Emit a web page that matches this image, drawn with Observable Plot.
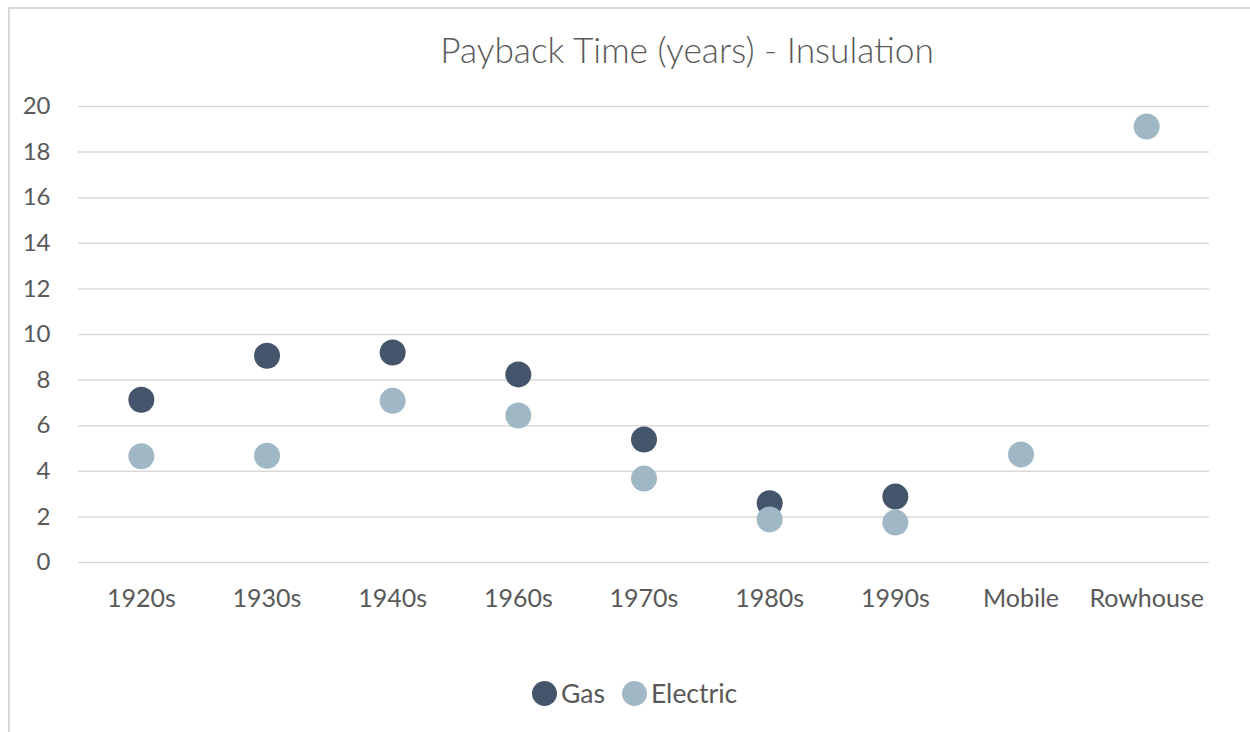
<!DOCTYPE html>
<html>
<head>
<meta charset="utf-8">
<script src="https://cdn.jsdelivr.net/npm/d3@7"></script>
<script src="https://cdn.jsdelivr.net/npm/@observablehq/plot@0.6"></script>
<style>
  html, body { margin: 0; padding: 0; background: #fff; }
  body { width: 1250px; height: 732px; overflow: hidden; position: relative; font-family: Lato, "Open Sans", sans-serif; color: #595959; }
  #frame { position: absolute; left: 8px; top: 7px; width: 1400px; height: 900px; border-left: 2px solid #d9d9d9; border-top: 2px solid #d9d9d9; }
  #title { position: absolute; left: 0; width: 1374px; top: 28px; text-align: center; font-size: 35.3px; font-weight: 300; line-height: 44px; }
  #chart { position: absolute; left: 0; top: 0; }
  #legend { position: absolute; top: 674px; left: 532px; display: flex; align-items: center; font-size: 26.5px; line-height: 38px; }
  .sw { display: inline-block; width: 25px; height: 25px; border-radius: 50%; margin-right: 4px; }
  .item { display: flex; align-items: center; margin-right: 17px; }
</style>
</head>
<body>
<div id="frame"></div>
<div id="title">Payback Time (years) - Insulation</div>
<div id="chart"></div>
<div id="legend"></div>
<script>
const categories = ["1920s", "1930s", "1940s", "1960s", "1970s", "1980s", "1990s", "Mobile", "Rowhouse"];
const gas = [7.14, 9.07, 9.21, 8.25, 5.39, 2.60, 2.89, null, null];
const electric = [4.66, 4.68, 7.09, 6.45, 3.68, 1.89, 1.75, 4.74, 19.12];
const yTicks = [0, 2, 4, 6, 8, 10, 12, 14, 16, 18, 20];
const seriesNames = ["Gas", "Electric"];
const seriesColors = ["#44546A", "#A0B7C6"];

const rows = [];
categories.forEach((c, i) => {
  if (gas[i] != null) rows.push({cat: c, series: "Gas", value: gas[i]});
});
categories.forEach((c, i) => {
  if (electric[i] != null) rows.push({cat: c, series: "Electric", value: electric[i]});
});

const chart = Plot.plot({
  width: 1250,
  height: 640,
  marginLeft: 78,
  marginRight: 41,
  marginTop: 106,
  marginBottom: 78,
  style: { fontFamily: "Lato, 'Open Sans', sans-serif", fontSize: "24px", color: "#595959", background: "transparent" },
  x: { type: "point", domain: categories, padding: 0.5, round: false, label: null },
  y: { domain: [0, 20], label: null },
  color: { domain: seriesNames, range: seriesColors },
  marks: [
    Plot.gridY(yTicks, { stroke: "#d9d9d9", strokeOpacity: 1, strokeWidth: 1.5 }),
    Plot.axisY(yTicks, { tickSize: 0, tickPadding: 28, fontSize: 24, fill: "#595959", label: null }),
    Plot.axisX({ tickSize: 0, tickPadding: 27, fontSize: 25, fill: "#595959", label: null }),
    Plot.dot(rows, { x: "cat", y: "value", fill: "series", r: 13, stroke: "none" })
  ]
});
document.getElementById("chart").appendChild(chart);

const legend = document.getElementById("legend");
seriesNames.forEach((n, i) => {
  const item = document.createElement("div");
  item.className = "item";
  const sw = document.createElement("span");
  sw.className = "sw";
  sw.style.background = seriesColors[i];
  item.appendChild(sw);
  const t = document.createElement("span");
  t.textContent = n;
  item.appendChild(t);
  legend.appendChild(item);
});
</script>
</body>
</html>
